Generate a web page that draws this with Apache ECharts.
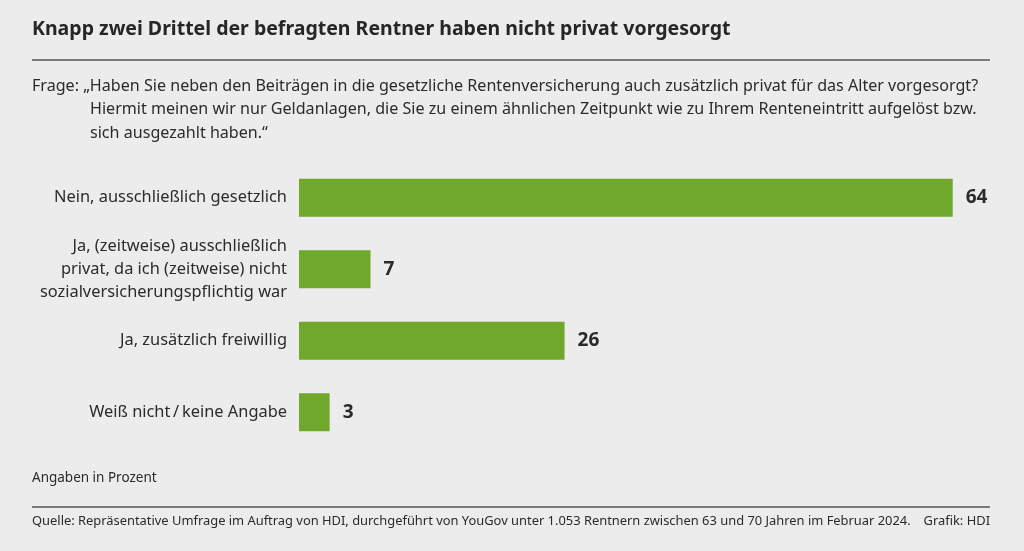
<!DOCTYPE html>
<html><head><meta charset="utf-8">
<script src="https://cdn.jsdelivr.net/npm/echarts@6/dist/echarts.min.js"></script>
<style>html,body{margin:0;padding:0;background:#ececec;}#c{width:1024px;height:551px;}</style>
</head><body><div id="c"></div>
<script>
const titleText = 'Knapp zwei Drittel der befragten Rentner haben nicht privat vorgesorgt';
const questionLines = [
  'Frage: \u201EHaben Sie neben den Beitr\u00E4gen in die gesetzliche Rentenversicherung auch zus\u00E4tzlich privat f\u00FCr das Alter vorgesorgt?',
  'Hiermit meinen wir nur Geldanlagen, die Sie zu einem \u00E4hnlichen Zeitpunkt wie zu Ihrem Renteneintritt aufgel\u00F6st bzw.',
  'sich ausgezahlt haben.\u201C'
];
const categories = [
  'Nein, ausschlie\u00DFlich gesetzlich',
  'Ja, (zeitweise) ausschlie\u00DFlich\nprivat, da ich (zeitweise) nicht\nsozialversicherungspflichtig war',
  'Ja, zus\u00E4tzlich freiwillig',
  'Wei\u00DF nicht\u2009/\u2009keine Angabe'
];
const values = [64, 7, 26, 3];
const unitNote = 'Angaben in Prozent';
const sourceText = 'Quelle: Repr\u00E4sentative Umfrage im Auftrag von HDI, durchgef\u00FChrt von YouGov unter 1.053 Rentnern zwischen 63 und 70 Jahren im Februar 2024.';
const creditText = 'Grafik: HDI';

const FONT = '"Noto Sans", "Open Sans", sans-serif';
const chart = echarts.init(document.getElementById('c'), null, {renderer: 'canvas'});
chart.setOption({
  backgroundColor: '#ececec',
  animation: false,
  grid: {left: 299, right: 10, top: 162, height: 286, containLabel: false},
  xAxis: {type: 'value', min: 0, max: 70, show: false},
  yAxis: {
    type: 'category', data: categories, inverse: true,
    axisLine: {show: false}, axisTick: {show: false}, splitLine: {show: false},
    axisLabel: {color: '#2b2b2b', fontFamily: FONT, fontSize: 16.4, lineHeight: 23, margin: 12, align: 'right'}
  },
  series: [{
    type: 'bar', data: values, barWidth: 38,
    itemStyle: {color: '#6fa82b'},
    label: {show: true, position: 'right', distance: 13, color: '#2b2b2b', fontFamily: FONT, fontWeight: 'bold', fontSize: 19}
  }],
  graphic: [
    {type: 'text', left: 32, top: 19, style: {text: titleText, fill: '#262626', font: 'bold 19.5px ' + FONT}},
    {type: 'line', shape: {x1: 32, y1: 60, x2: 990, y2: 60}, style: {stroke: '#7a7a7a', lineWidth: 2}},
    {type: 'text', left: 32, top: 78, style: {text: questionLines[0], fill: '#2b2b2b', font: '16.1px ' + FONT}},
    {type: 'text', left: 90, top: 101.5, style: {text: questionLines[1], fill: '#2b2b2b', font: '16.1px ' + FONT}},
    {type: 'text', left: 90, top: 125, style: {text: questionLines[2], fill: '#2b2b2b', font: '16.1px ' + FONT}},
    {type: 'text', left: 32, top: 471, style: {text: unitNote, fill: '#2b2b2b', font: '13.5px ' + FONT}},
    {type: 'line', shape: {x1: 32, y1: 507, x2: 990, y2: 507}, style: {stroke: '#7a7a7a', lineWidth: 2}},
    {type: 'text', left: 32, top: 515, style: {text: sourceText, fill: '#2b2b2b', font: '12.9px ' + FONT}},
    {type: 'text', right: 34, top: 515, style: {text: creditText, fill: '#2b2b2b', font: '12.9px ' + FONT}}
  ]
});
</script></body></html>
